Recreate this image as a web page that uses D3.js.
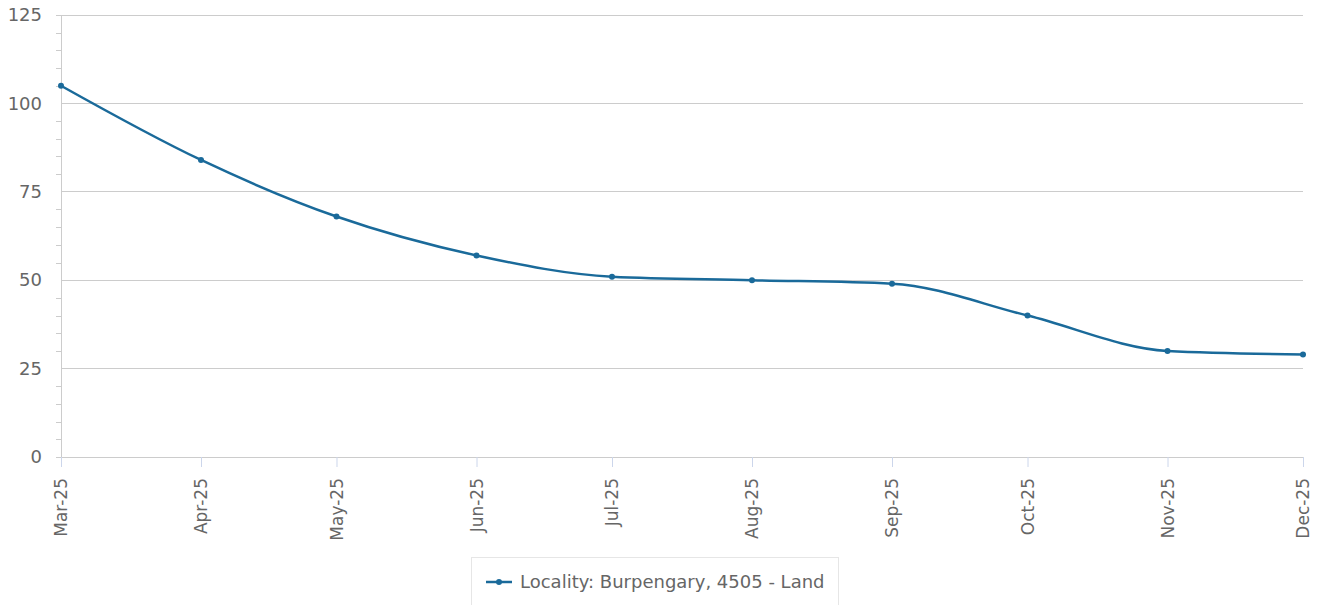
<!DOCTYPE html>
<html><head><meta charset="utf-8">
<script src="https://cdn.jsdelivr.net/npm/d3@7"></script>
<style>body{margin:0;background:#fff;font-family:"DejaVu Sans",sans-serif;}</style>
</head><body><svg id="c" width="1322" height="605"></svg>
<script>
const months = ["2025-03-01","2025-04-01","2025-05-01","2025-06-01","2025-07-01","2025-08-01","2025-09-01","2025-10-01","2025-11-01","2025-12-01"];
const values = [105, 84, 68, 57, 51, 50, 49, 40, 30, 29];
const yTicks = [0, 25, 50, 75, 100, 125];
const seriesName = "Locality: Burpengary, 4505 - Land";

const parse = d3.timeParse("%Y-%m-%d");
const data = months.map((m, i) => ({date: parse(m), v: values[i]}));
const svg = d3.select("#c");
const L = 61, R = 1303, T = 15, B = 457;
const x = d3.scaleTime().domain(d3.extent(data, d => d.date)).range([L, R]);
const y = d3.scaleLinear().domain([0, 125]).range([B, T]);
const color = "#1a6a9a";

// gridlines
svg.append("g").selectAll("line").data(yTicks).join("line")
  .attr("x1", L).attr("x2", R).attr("y1", d => y(d)).attr("y2", d => y(d))
  .attr("stroke", "#cccccc").attr("stroke-width", 1).attr("shape-rendering","crispEdges");

// y axis
const yAxis = svg.append("g").attr("transform", `translate(${L},0)`)
  .call(d3.axisLeft(y).tickValues(d3.range(0, 126, 5)).tickSize(5).tickFormat(d => yTicks.includes(d) ? d : ""));
yAxis.select(".domain").attr("stroke", "#cccccc");
yAxis.selectAll(".tick line").attr("stroke", "#cccccc").attr("shape-rendering","crispEdges");
yAxis.selectAll(".tick").filter(d => yTicks.includes(d)).select("line").attr("x2", 0);
yAxis.selectAll("text").attr("x", -19).attr("fill", "#666").style("font-size", "18px").style("font-family", "DejaVu Sans");

// x axis
const xAxis = svg.append("g").attr("transform", `translate(0,${B})`)
  .call(d3.axisBottom(x).tickValues(data.map(d => d.date)).tickSize(10).tickFormat(d3.timeFormat("%b-%y")));
xAxis.select(".domain").remove();
xAxis.selectAll(".tick line").attr("stroke", "#ccd6eb");
xAxis.selectAll("text").attr("transform", "rotate(-90)").attr("x", -21).attr("y", 0).attr("dy", "0.35em")
  .attr("text-anchor", "end").attr("fill", "#666").style("font-size", "17px").style("font-family", "DejaVu Sans");

// line
svg.append("path").datum(data)
  .attr("d", d3.line().x(d => x(d.date)).y(d => y(d.v)).curve(d3.curveMonotoneX))
  .attr("fill", "none").attr("stroke", color).attr("stroke-width", 2.5);
svg.append("g").selectAll("circle").data(data).join("circle")
  .attr("cx", d => x(d.date)).attr("cy", d => y(d.v)).attr("r", 3).attr("fill", color);

// legend
const lg = svg.append("g");
lg.append("rect").attr("x", 471.5).attr("y", 557.5).attr("width", 367).attr("height", 60)
  .attr("fill", "#fff").attr("stroke", "#e6e6e6");
lg.append("line").attr("x1", 486).attr("x2", 512).attr("y1", 582).attr("y2", 582).attr("stroke", color).attr("stroke-width", 2.5);
lg.append("circle").attr("cx", 499).attr("cy", 582).attr("r", 3).attr("fill", color);
lg.append("text").attr("x", 520).attr("y", 582).attr("dy", "0.35em").text(seriesName)
  .attr("fill", "#666").style("font-size", "18px").style("font-family", "DejaVu Sans");
</script></body></html>
